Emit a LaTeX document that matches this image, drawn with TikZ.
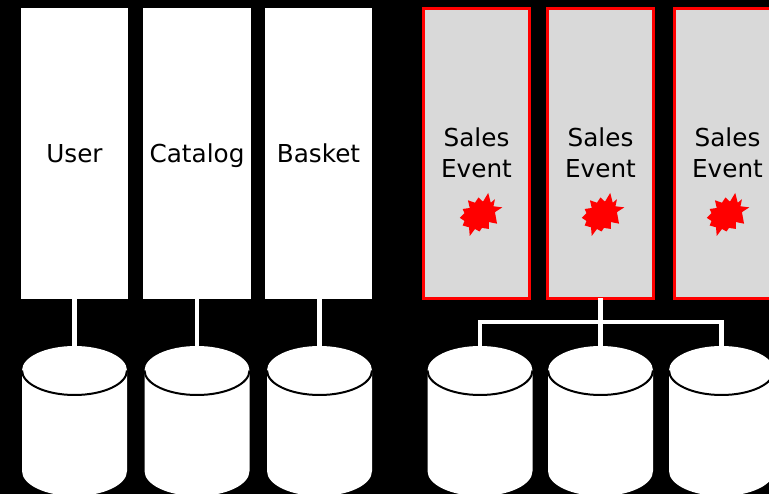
\documentclass[tikz,border=0pt]{standalone}
\usepackage{fontspec}
\setmainfont{DejaVu Sans}
\definecolor{panelgray}{HTML}{D9D9D9}
\definecolor{burstred}{HTML}{FF0000}
\newcommand{\evlabel}{Sales\\Event\rule[-2pt]{0pt}{2pt}}
\tikzset{
  svcbox/.style={draw=none,fill=white,minimum width=107pt,minimum height=291pt,inner sep=0pt,outer sep=0pt,font=\fontsize{24.7}{31}\selectfont,text height=24pt,text depth=6pt},
  eventbox/.style={draw=burstred,line width=3pt,fill=panelgray,minimum width=106.5pt,minimum height=290pt,inner sep=0pt,outer sep=0pt,font=\fontsize{24.7}{31}\selectfont,align=center},
  dbspot/.style={draw=none,minimum width=105pt,minimum height=148pt,inner sep=0pt,outer sep=0pt},
  link/.style={draw=white,line width=4.2pt,line join=miter},
  pics/burst/.style={code={
    \fill[burstred,scale=1.05] (8.3,-21) -- (10.7,-11.7) -- (14.7,-15) -- (13.3,-8.3) -- (21.7,-7.3) -- (14.7,-2.7) -- (16.7,8.3) -- (9,6.7) -- (9,13.3) -- (2.3,12.3) -- (0,15.7) -- (-4.3,13.3) -- (-9.3,20) -- (-10,11.7) -- (-16,10) -- (-14.3,5.7) -- (-18.7,2.7) -- (-14.3,-1.7) -- (-16,-5.7) -- (-9.3,-6.7) -- (-11,-14) -- (-4.3,-11.7) -- (-1,-16.7) -- (3.3,-12.7) -- cycle;
  }}
}
\newcommand{\dbcyl}[2]{% name, x
  \node[dbspot] (#1) at (#2,420) {};
  \begin{scope}[shift={(#2,0)}]
    \fill[white] (-52.5,370.5) arc[start angle=180,end angle=360,x radius=52.5,y radius=24.5]
      -- (52.5,471) arc[start angle=0,end angle=180,x radius=52.5,y radius=25] -- cycle;
    \draw[black,line width=2pt] (-52.5,370.5) arc[start angle=180,end angle=0,x radius=52.5,y radius=24.5];
  \end{scope}
}
\begin{document}
\begin{tikzpicture}[x=1pt,y=-1pt]
\useasboundingbox (0,0) rectangle (769,494);
\clip (0,0) rectangle (769,494);
\fill[black] (0,0) rectangle (769,494);

\node[svcbox] (user) at (74.5,153.5) {User};
\node[svcbox,minimum width=108pt] (catalog) at (197,153.5) {Catalog};
\node[svcbox] (basket) at (318.5,153.5) {Basket};

\node[eventbox] (evA) at (476.5,153.5) {\evlabel};
\node[eventbox] (evB) at (600.5,153.5) {\evlabel};
\node[eventbox] (evC) at (727.5,153.5) {\evlabel};

\pic at (479.5,215) {burst};
\pic at (601.5,215) {burst};
\pic at (726.5,215) {burst};

\dbcyl{dbU}{74.5}
\dbcyl{dbC}{197}
\dbcyl{dbB}{319.5}
\dbcyl{dbA}{480}
\dbcyl{dbM}{600.5}
\dbcyl{dbR}{721.5}

\coordinate (hub) at (600.5,322);

\draw[link] (user.south) -- (dbU.north);
\draw[link] (catalog.south) -- (dbC.north);
\draw[link] (dbB.north |- basket.south) -- (dbB.north);
\draw[link] (evB.south) -- (dbM.north);
\draw[link] (dbA.north) |- (hub) -| (dbR.north);
\end{tikzpicture}
\end{document}
